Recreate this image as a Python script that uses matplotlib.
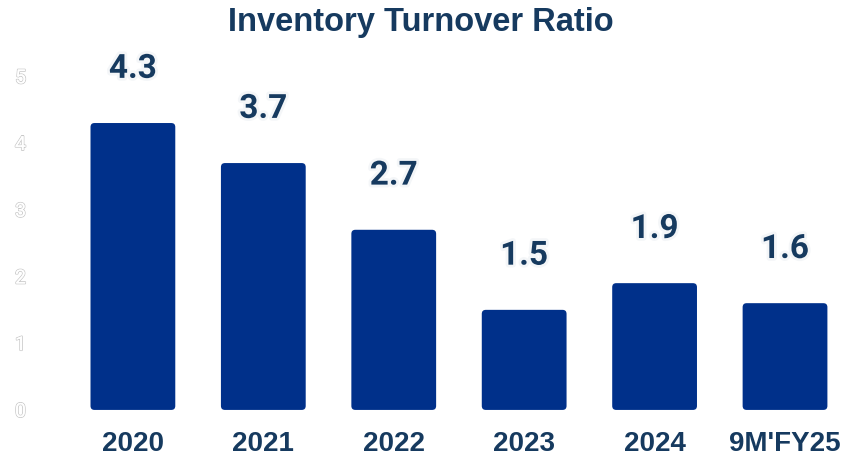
import numpy as np
import matplotlib.pyplot as plt
import matplotlib.patheffects as pe
from matplotlib.patches import FancyBboxPatch

# Chart data
categories = ["2020", "2021", "2022", "2023", "2024", "9M'FY25"]
turnover = [4.3, 3.7, 2.7, 1.5, 1.9, 1.6]
y_ticks = [0, 1, 2, 3, 4, 5]

bar_color = "#00308A"
text_color = "#163A5F"

fig = plt.figure(figsize=(8.46, 4.57), dpi=100)
ax = fig.add_axes([0.08, 0.103, 0.925, 0.803])

x = np.arange(len(categories))
bars = ax.bar(x, turnover, width=0.65, color=bar_color)

ax.set_xlim(-0.5, len(categories) - 0.5)
ax.set_ylim(0, 5.5)

# swap plain bars for ones with slightly rounded corners
px_x = 1 / 130.0
px_y = 1 / 66.7
for b in bars:
    b.set_visible(False)
    rounded = FancyBboxPatch((b.get_x(), b.get_y()), b.get_width(), b.get_height(),
                             boxstyle=f"round,pad=0,rounding_size={4 * px_x}",
                             mutation_aspect=px_y / px_x,
                             facecolor=bar_color, edgecolor="none")
    ax.add_patch(rounded)

# value labels above bars
for xi, v in zip(x, turnover):
    ax.annotate(f"{v:.1f}", (xi, v), xytext=(0, 39), textcoords="offset points",
                ha="center", va="center", fontsize=24, fontweight="bold",
                color=text_color, family="Roboto",
                path_effects=[pe.withStroke(linewidth=4, foreground="#F4F6F8")])

ax.set_xticks(x)
ax.set_xticklabels(categories, fontsize=20, fontweight="bold", color=text_color,
                   family="Liberation Sans")
ax.set_yticks(y_ticks)
ax.set_yticklabels([str(t) for t in y_ticks], fontsize=14, color="white", family="Roboto")
for lbl in ax.get_yticklabels():
    lbl.set_path_effects([pe.withStroke(linewidth=1.2, foreground="#C8C8C8"), pe.Normal()])

ax.tick_params(axis="both", length=0)
ax.tick_params(axis="x", pad=15)
ax.tick_params(axis="y", pad=30)
for s in ax.spines.values():
    s.set_visible(False)

fig.text(0.498, 0.950, "Inventory Turnover Ratio", ha="center", va="center",
         fontsize=23.5, fontweight="bold", color=text_color, family="Liberation Sans")

fig.savefig("out.png", dpi=100)
